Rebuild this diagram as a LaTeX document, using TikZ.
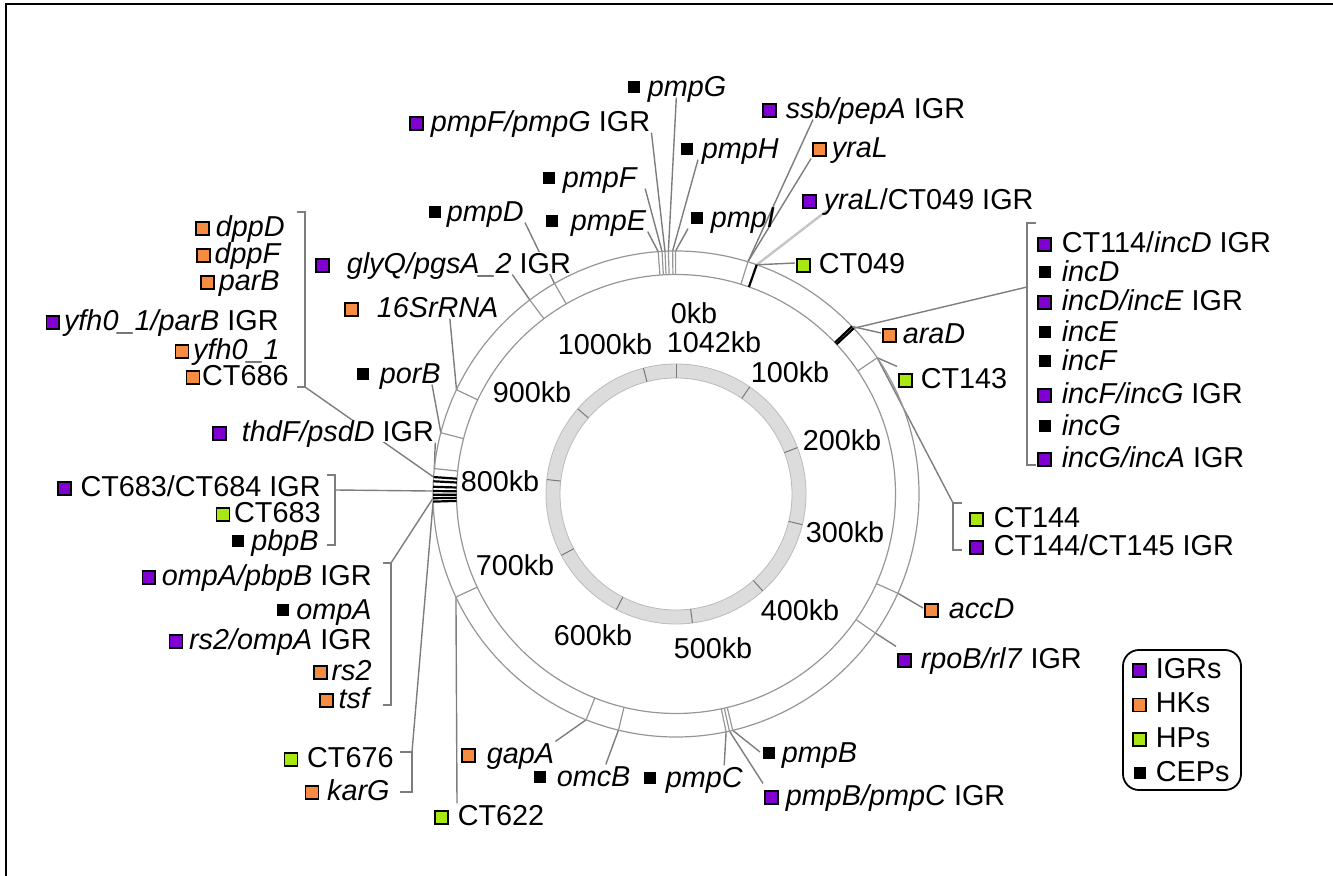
\documentclass[tikz,border=0pt]{standalone}
\usepackage{fontspec}
\setmainfont{Liberation Sans}
\usetikzlibrary{positioning}
\pgfdeclarelayer{bg}
\pgfsetlayers{bg,main}

\definecolor{igrcol}{RGB}{128,0,210}
\definecolor{hkcol}{RGB}{245,140,66}
\definecolor{hpcol}{RGB}{168,230,20}
\definecolor{leadcol}{RGB}{125,125,125}
\definecolor{bandcol}{RGB}{150,150,150}
\definecolor{ringcol}{RGB}{220,220,220}

\newcommand{\lbfont}{\fontsize{14.4}{17}\selectfont}
\newcommand{\mksq}[1]{\raisebox{1pt}{\setlength{\fboxsep}{0pt}\setlength{\fboxrule}{0.8pt}\fcolorbox{black}{#1}{\rule{0pt}{5.6pt}\rule{5.6pt}{0pt}}}}
\newcommand{\sqIGR}{\mksq{igrcol}}
\newcommand{\sqHK}{\mksq{hkcol}}
\newcommand{\sqHP}{\mksq{hpcol}}
\newcommand{\sqCEP}{\makebox[7.2pt]{\raisebox{1.4pt}{\rule{6pt}{6pt}}}}

\tikzset{
  lab/.style={font=\lbfont, inner sep=0.5pt, anchor=west, text height=10.2pt, text depth=0pt},
  labr/.style={lab, anchor=east},
  mask/.style={fill=white},
  kb/.style={font=\lbfont, inner sep=0pt, text height=10.2pt, text depth=0pt},
  lead/.style={draw=leadcol, line width=0.7pt},
  band/.style={draw=bandcol, line width=0.6pt},
  gtick/.style={draw=bandcol, line width=0.6pt},
  btick/.style={draw=black, line width=1.1pt},
  brk/.style={draw=leadcol, line width=0.8pt}
}

\begin{document}
\begin{tikzpicture}[x=0.5pt,y=-0.5pt]
  \useasboundingbox (0,0) rectangle (1333,876);
  \draw[line width=1pt] (6,876) -- (6,4) -- (1333,4);
  \coordinate (c) at (676,494);

  % genes, top
  \node[lab] (pmpG)  at (625,86)  {\sqCEP\hspace{3.5pt}\textit{pmpG}};
  \node[lab] (pmpFG) at (408,121) {\sqIGR\hspace{3.5pt}\textit{pmpF/pmpG} IGR};
  \node[lab] (pmpH)  at (678,148) {\sqCEP\hspace{4pt}\textit{pmpH}};
  \node[lab] (pmpF)  at (540,177) {\sqCEP\hspace{3.5pt}\textit{pmpF}};
  \node[lab] (pmpD)  at (426,211) {\sqCEP\hspace{2.5pt}\textit{pmpD}};
  \node[lab] (pmpE)  at (543,220) {\sqCEP\hspace{6pt}\textit{pmpE}};
  \node[lab] (pmpI)  at (688,217) {\sqCEP\hspace{3.5pt}\textit{pmpI}};
  \node[lab,mask] (glyQ) at (314,263) {\sqIGR\hspace{8.5pt}\textit{glyQ/pgsA\_2} IGR};
  \node[lab] (rRNA)  at (343,307) {\sqHK\hspace{9pt}\textit{16SrRNA}};
  \node[lab] (porB)  at (354,373) {\sqCEP\hspace{5pt}\textit{porB}};
  \node[lab,mask] (thdF) at (211,431) {\sqIGR\hspace{7.5pt}\textit{thdF/psdD} IGR};

  % genes, right
  \node[lab] (ssb)     at (761,108) {\sqIGR\hspace{4.5pt}\textit{ssb/pepA} IGR};
  \node[lab] (yraL)    at (811,147) {\sqHK\hspace{2.5pt}\textit{yraL}};
  \node[lab] (yraLIGR) at (801,199) {\sqIGR\hspace{3.5pt}\textit{yraL}/CT049 IGR};
  \node[lab] (CT049)   at (795,263) {\sqHP\hspace{4pt}CT049};
  \node[lab] (araD)    at (881,333) {\sqHK\hspace{3pt}\textit{araD}};
  \node[lab] (CT143)   at (897,378) {\sqHP\hspace{4pt}CT143};

  \node[lab] (incDIGR) at (1036,242) {\sqIGR\hspace{5pt}CT114/\textit{incD} IGR};
  \node[lab] (incD)    at (1036,271) {\sqCEP\hspace{5pt}\textit{incD}};
  \node[lab] (incDE)   at (1036,300) {\sqIGR\hspace{5pt}\textit{incD/incE} IGR};
  \node[lab] (incE)    at (1036,331) {\sqCEP\hspace{5pt}\textit{incE}};
  \node[lab] (incF)    at (1036,360) {\sqCEP\hspace{5pt}\textit{incF}};
  \node[lab] (incFG)   at (1036,393) {\sqIGR\hspace{5pt}\textit{incF/incG} IGR};
  \node[lab] (incG)    at (1036,425) {\sqCEP\hspace{5pt}\textit{incG}};
  \node[lab] (incGA)   at (1036,457) {\sqIGR\hspace{5pt}\textit{incG/incA} IGR};

  \node[lab] (CT144)    at (968,517) {\sqHP\hspace{5pt}CT144};
  \node[lab] (CT144IGR) at (968,545) {\sqIGR\hspace{5pt}CT144/CT145 IGR};
  \node[lab] (accD)     at (923,608) {\sqHK\hspace{5pt}\textit{accD}};
  \node[lab] (rpoB)     at (896,658) {\sqIGR\hspace{4.5pt}\textit{rpoB/rl7} IGR};

  % genes, bottom
  \node[lab] (pmpBC) at (763,795) {\sqIGR\hspace{3.5pt}\textit{pmpB/pmpC} IGR};
  \node[lab] (pmpB)  at (760,752) {\sqCEP\hspace{3pt}\textit{pmpB}};
  \node[lab] (pmpC)  at (641,777) {\sqCEP\hspace{4.5pt}\textit{pmpC}};
  \node[lab] (omcB)  at (531,776) {\sqCEP\hspace{5pt}\textit{omcB}};
  \node[lab] (gapA)  at (460,753) {\sqHK\hspace{5.5pt}\textit{gapA}};
  \node[lab] (CT622) at (433,815) {\sqHP\hspace{4.5pt}CT622};

  % genes, left
  \node[labr] (CT676)    at (395,757) {\sqHP\hspace{4.5pt}CT676};
  \node[labr] (karG)     at (391,790) {\sqHK\hspace{4pt}\textit{karG}};
  \node[labr] (ompApbpB) at (373,575) {\sqIGR\hspace{3pt}\textit{ompA/pbpB} IGR};
  \node[labr] (ompA)     at (373,609) {\sqCEP\hspace{3pt}\textit{ompA}};
  \node[labr] (rs2ompA)  at (373,639) {\sqIGR\hspace{3pt}\textit{rs2/ompA} IGR};
  \node[labr] (rs2)      at (373,670) {\sqHK\hspace{2pt}\textit{rs2}};
  \node[labr] (tsf)      at (373,698) {\sqHK\hspace{2.5pt}\textit{tsf}};
  \node[labr] (CT683IGR) at (322,486) {\sqIGR\hspace{4.5pt}CT683/CT684 IGR};
  \node[labr] (CT683)    at (322,512) {\sqHP\hspace{2pt}CT683};
  \node[labr] (pbpB)     at (320,540) {\sqCEP\hspace{3pt}\textit{pbpB}};
  \node[labr] (dppD)     at (286,226) {\sqHK\hspace{3pt}\textit{dppD}};
  \node[labr] (dppF)     at (283,253) {\sqHK\hspace{2pt}\textit{dppF}};
  \node[labr] (parB)     at (281,280) {\sqHK\hspace{2pt}\textit{parB}};
  \node[labr] (yfhIGR)   at (280,320) {\sqIGR\hspace{2pt}\textit{yfh0\_1/parB} IGR};
  \node[labr] (yfh)      at (281,349) {\sqHK\hspace{2pt}\textit{yfh0\_1}};
  \node[labr] (CT686)    at (290,375) {\sqHK\hspace{1pt}CT686};

  % kb scale
  \node[kb] (k0)    at (694,313) {0kb};
  \node[kb] (k1042) at (714,342) {1042kb};
  \node[kb] (k1000) at (605,344) {1000kb};
  \node[kb] (k100)  at (790,372) {100kb};
  \node[kb] (k900)  at (532,392) {900kb};
  \node[kb] (k200)  at (842,440) {200kb};
  \node[kb] (k800)  at (500,481) {800kb};
  \node[kb] (k300)  at (845,532) {300kb};
  \node[kb] (k700)  at (515,565) {700kb};
  \node[kb] (k400)  at (800,610) {400kb};
  \node[kb] (k600)  at (593,635) {600kb};
  \node[kb] (k500)  at (713,648) {500kb};

  % legend
  \draw[line width=0.9pt, rounded corners=8pt] (1123,650) rectangle (1241,790);
  \node[lab] (lgIGR) at (1131,668) {\sqIGR\hspace{4.5pt}IGRs};
  \node[lab] (lgHK) [below=5.6pt of lgIGR.south west, anchor=north west] {\sqHK\hspace{4.5pt}HKs};
  \node[lab] (lgHP) [below=5.6pt of lgHK.south west, anchor=north west] {\sqHP\hspace{4.5pt}HPs};
  \node[lab] (lgCEP) [below=5.6pt of lgHP.south west, anchor=north west] {\sqCEP\hspace{4.5pt}CEPs};

  % chromosome
  \fill[ringcol, even odd rule] (c) circle[radius=130] circle[radius=116];
  \draw[ringcol!85!black, line width=0.4pt] (c) circle[radius=130] (c) circle[radius=116];
  \foreach \k in {0,...,10}
    \draw[ringcol!55!black, line width=0.5pt] (c) ++({\k*34.549-90}:116) -- ++({\k*34.549-90}:14);
  \draw[band] (c) circle[radius=243] (c) circle[radius=219.5];
  \foreach \n/\a in {tE/-94.2, tF/-93.3, tFG/-92.6, tG/-91.8, tH/-90.8, tI/-90.1,
      tD/-120, tGly/-127, tRna/-154.6, tPor/-165.4, tThd/-174, t622/154.9, tGap/111.7,
      tOmc/103.7, tPmpC/78.1, tPmpBC/77.3, tPmpB/76.5, tRpo/34.9, tAcc/24.1,
      tCT143/-34.1, tYra/-72.8}
    \draw[gtick] (c) ++(\a:219.5) -- ++(\a:23.5) coordinate (\n);
  \foreach \n/\a in {tC1/184, tC2/183, tC3/181.7, tC4/180.7, tC5/179.8, tC6/179,
      tC7/178.2, tAra/-43.6, tInc/-43.0, tC49/-70.6}
    \draw[btick] (c) ++(\a:219.5) -- ++(\a:23.5) coordinate (\n);

  % brackets
  \coordinate (bCT686) at (305,387);
  \draw[brk] (297,212) -- (305,212) -- (bCT686) -- (297,387);
  \coordinate (bCT683) at (335,490);
  \draw[brk] (327,475) -- (335,475) -- (335,545) -- (327,545);
  \coordinate (bOmpA) at (391,563);
  \draw[brk] (383,563) -- (bOmpA) -- (391,705) -- (383,705);
  \coordinate (bCT676) at (412,752);
  \draw[brk] (400,752) -- (bCT676) -- (412,792) -- (400,792);
  \coordinate (bInc) at (1027,287);
  \draw[brk] (1036,223) -- (1027,223) -- (1027,465) -- (1036,465);
  \coordinate (bCT144) at (953,503);
  \draw[brk] (962,503) -- (bCT144) -- (953,550) -- (962,550);

  \begin{pgfonlayer}{bg}
    \draw[lead] (pmpG.south) -- (tG);
    \draw[lead] (pmpFG.south east) -- (tFG);
    \draw[lead] ([xshift=10pt]pmpH.south west) -- (tH);
    \draw[lead] ([xshift=3pt]pmpF.south east) -- (tF);
    \draw[lead] (pmpD.south east) -- (tD);
    \draw[lead] (pmpE.south east) -- (tE);
    \draw[lead] (pmpI.south west) -- (tI);
    \draw[lead] ([xshift=-30pt]glyQ.south east) -- (tGly);
    \draw[lead] ([xshift=-25pt]rRNA.south east) -- (tRna);
    \draw[lead] ([xshift=-5pt]porB.south east) -- (tPor);
    \draw[lead] (thdF.south east) -- (tThd);
    \draw[lead] ([xshift=26pt]ssb.south west) -- (tYra);
    \draw[lead] (yraL.south west) -- (tYra);
    \draw[lead, draw=leadcol!45, line width=1.2pt] ([xshift=13pt]yraLIGR.south west) -- (tC49);
    \draw[lead] (CT049.west) -- (tC49);
    \draw[lead] (araD.west) -- (tAra);
    \draw[lead] (CT143.north west) -- (tCT143);
    \draw[lead] (bInc) -- (tInc);
    \draw[lead] (bCT144) -- (tCT143);
    \draw[lead] (accD.west) -- (tAcc);
    \draw[lead] (rpoB.north west) -- (tRpo);
    \draw[lead] (pmpBC.north west) -- (tPmpBC);
    \draw[lead] (pmpB.west) -- (tPmpB);
    \draw[lead] ([xshift=-10pt]pmpC.north east) -- (tPmpC);
    \draw[lead] ([xshift=-13pt]omcB.north east) -- (tOmc);
    \draw[lead] (gapA.north east) -- (tGap);
    \draw[lead] ([xshift=12pt]CT622.north west) -- (t622);
    \draw[lead] (bCT676) -- (tC7);
    \draw[lead] (bOmpA) -- (tC6);
    \draw[lead] (bCT683) -- (tC4);
    \draw[lead] (bCT686) -- (tC1);
  \end{pgfonlayer}
\end{tikzpicture}
\end{document}
